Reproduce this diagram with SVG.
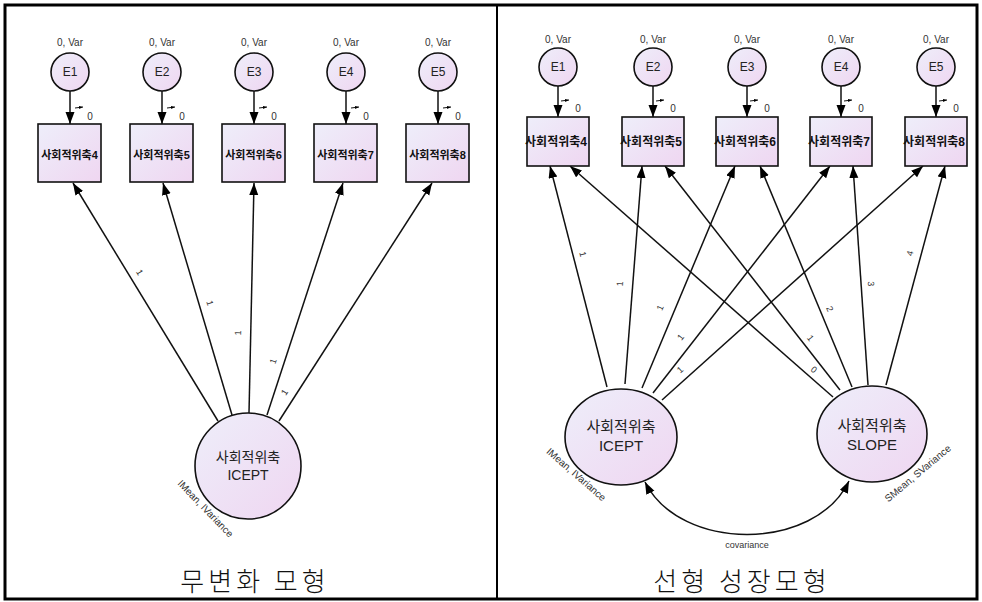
<svg xmlns="http://www.w3.org/2000/svg" width="982" height="602" viewBox="0 0 982 602">
<defs>
<linearGradient id="fillg" x1="0" y1="0" x2="1" y2="1">
<stop offset="0" stop-color="#eeeefa"/>
<stop offset="1" stop-color="#efd6f1"/>
</linearGradient>
<marker id="ah" markerUnits="userSpaceOnUse" markerWidth="13" markerHeight="10" refX="12" refY="4.5" orient="auto-start-reverse">
<path d="M0,0 L12,4.5 L0,9 z" fill="#000"/>
</marker>
<marker id="sah" markerUnits="userSpaceOnUse" markerWidth="5" markerHeight="4" refX="4" refY="1.5" orient="auto">
<path d="M0,0 L4,1.5 L0,3 z" fill="#000"/>
</marker>
</defs>
<style>
.sh{fill:url(#fillg);stroke:#111;stroke-width:1.6}
.lbl{font-family:"Liberation Sans",Arial,sans-serif;font-size:10px;fill:#333;text-anchor:middle}
.en{font-family:"Liberation Sans",Arial,sans-serif;font-size:12px;fill:#222;text-anchor:middle}
.bxl{font-family:"Liberation Sans","Noto Sans CJK KR",sans-serif;font-size:11px;font-weight:bold;fill:#111;text-anchor:middle}
.bxr{font-family:"Liberation Sans","Noto Sans CJK KR",sans-serif;font-size:12px;font-weight:bold;fill:#111;text-anchor:middle}
.lat{font-family:"Liberation Sans","Noto Sans CJK KR",sans-serif;fill:#222;text-anchor:middle}
.pl{font-family:"Liberation Sans",Arial,sans-serif;font-size:9px;fill:#333;text-anchor:middle}
.ar{stroke:#111;stroke-width:1.5;fill:none;marker-end:url(#ah)}
.sa{stroke:#111;stroke-width:1;fill:none;marker-end:url(#sah)}
.cap{font-family:"Noto Sans CJK KR",sans-serif;font-size:26px;font-weight:300;fill:#111;text-anchor:middle;letter-spacing:4px}
</style>
<rect x="0" y="0" width="982" height="602" fill="#fff"/>
<rect x="5" y="5" width="972" height="594" fill="none" stroke="#000" stroke-width="3"/>
<line x1="497" y1="5" x2="497" y2="599" stroke="#000" stroke-width="2"/>

<g id="connectors">
<line class="ar" x1="70" y1="91" x2="70" y2="124"/>
<line class="ar" x1="162" y1="91" x2="162" y2="124"/>
<line class="ar" x1="254" y1="91" x2="254" y2="124"/>
<line class="ar" x1="346" y1="91" x2="346" y2="124"/>
<line class="ar" x1="438" y1="91" x2="438" y2="124"/>
<line class="sa" x1="75" y1="108" x2="83" y2="107"/>
<line class="sa" x1="167" y1="108" x2="175" y2="107"/>
<line class="sa" x1="259" y1="108" x2="267" y2="107"/>
<line class="sa" x1="351" y1="108" x2="359" y2="107"/>
<line class="sa" x1="443" y1="108" x2="451" y2="107"/>
<line class="ar" x1="218" y1="421" x2="73" y2="183"/>
<line class="ar" x1="232" y1="415" x2="163" y2="183"/>
<line class="ar" x1="249" y1="413" x2="254" y2="183"/>
<line class="ar" x1="267" y1="415" x2="343" y2="183"/>
<line class="ar" x1="279" y1="421" x2="432" y2="183"/>
<text class="pl" transform="translate(137,274) rotate(58.6)">1</text>
<text class="pl" transform="translate(207,304) rotate(73.4)">1</text>
<text class="pl" transform="translate(241,333) rotate(-88.8)">1</text>
<text class="pl" transform="translate(276,362) rotate(-71.9)">1</text>
<text class="pl" transform="translate(287,394) rotate(-57.3)">1</text>
<line class="ar" x1="558" y1="86" x2="558" y2="117"/>
<line class="ar" x1="653" y1="86" x2="653" y2="117"/>
<line class="ar" x1="747" y1="86" x2="747" y2="117"/>
<line class="ar" x1="841" y1="86" x2="841" y2="117"/>
<line class="ar" x1="936" y1="86" x2="936" y2="117"/>
<line class="sa" x1="561" y1="101" x2="569" y2="100"/>
<line class="sa" x1="656" y1="101" x2="664" y2="100"/>
<line class="sa" x1="750" y1="101" x2="758" y2="100"/>
<line class="sa" x1="844" y1="101" x2="852" y2="100"/>
<line class="sa" x1="939" y1="101" x2="947" y2="100"/>
<line class="ar" x1="607" y1="387" x2="550" y2="166"/>
<line class="ar" x1="625" y1="384" x2="642" y2="166"/>
<line class="ar" x1="642" y1="388" x2="735" y2="166"/>
<line class="ar" x1="653" y1="393" x2="830" y2="166"/>
<line class="ar" x1="662" y1="400" x2="923" y2="166"/>
<line class="ar" x1="833" y1="397" x2="570" y2="166"/>
<line class="ar" x1="840" y1="390" x2="665" y2="166"/>
<line class="ar" x1="852" y1="387" x2="760" y2="166"/>
<line class="ar" x1="868" y1="385" x2="853" y2="166"/>
<line class="ar" x1="886" y1="385" x2="945" y2="166"/>
<text class="pl" transform="translate(580,255) rotate(75.5)">1</text>
<text class="pl" transform="translate(623,284) rotate(-85.5)">1</text>
<text class="pl" transform="translate(663,309) rotate(-67.3)">1</text>
<text class="pl" transform="translate(683,339) rotate(-52.1)">1</text>
<text class="pl" transform="translate(682,372) rotate(-41.9)">1</text>
<text class="pl" transform="translate(812,372) rotate(41)">0</text>
<text class="pl" transform="translate(808,340) rotate(52)">1</text>
<text class="pl" transform="translate(827,310) rotate(67.4)">2</text>
<text class="pl" transform="translate(868,284) rotate(86)">3</text>
<text class="pl" transform="translate(913,254) rotate(-74.9)">4</text>
<path d="M645,482 C680,552 815,552 849,481" stroke="#111" stroke-width="1.5" fill="none" marker-start="url(#ah)" marker-end="url(#ah)"/>
<text class="pl" x="747" y="548">covariance</text>
</g>

<g id="L-E1"><text class="lbl" x="70" y="46">0, Var</text><circle class="sh" cx="70" cy="72" r="19"/><text class="en" x="70" y="76">E1</text><text class="lbl" x="90" y="120">0</text></g>
<g id="L-E2"><text class="lbl" x="162" y="46">0, Var</text><circle class="sh" cx="162" cy="72" r="19"/><text class="en" x="162" y="76">E2</text><text class="lbl" x="182" y="120">0</text></g>
<g id="L-E3"><text class="lbl" x="254" y="46">0, Var</text><circle class="sh" cx="254" cy="72" r="19"/><text class="en" x="254" y="76">E3</text><text class="lbl" x="274" y="120">0</text></g>
<g id="L-E4"><text class="lbl" x="346" y="46">0, Var</text><circle class="sh" cx="346" cy="72" r="19"/><text class="en" x="346" y="76">E4</text><text class="lbl" x="366" y="120">0</text></g>
<g id="L-E5"><text class="lbl" x="438" y="46">0, Var</text><circle class="sh" cx="438" cy="72" r="19"/><text class="en" x="438" y="76">E5</text><text class="lbl" x="458" y="120">0</text></g>
<g id="L-B4"><rect class="sh" x="38" y="124" width="63" height="58"/><text class="bxl" x="69.5" y="159">사회적위축4</text></g>
<g id="L-B5"><rect class="sh" x="130" y="124" width="63" height="58"/><text class="bxl" x="161.5" y="159">사회적위축5</text></g>
<g id="L-B6"><rect class="sh" x="222" y="124" width="63" height="58"/><text class="bxl" x="253.5" y="159">사회적위축6</text></g>
<g id="L-B7"><rect class="sh" x="314" y="124" width="63" height="58"/><text class="bxl" x="345.5" y="159">사회적위축7</text></g>
<g id="L-B8"><rect class="sh" x="406" y="124" width="63" height="58"/><text class="bxl" x="437.5" y="159">사회적위축8</text></g>
<g id="L-ICEPT">
<circle class="sh" cx="248" cy="466" r="53"/>
<text class="lat" x="248" y="462" font-size="14">사회적위축</text>
<text class="lat" x="248" y="480" font-size="14">ICEPT</text>
<text class="lbl" transform="translate(203,511) rotate(46)">IMean, IVariance</text>
</g>

<g id="R-E1"><text class="lbl" x="558" y="43">0, Var</text><circle class="sh" cx="558" cy="67" r="19"/><text class="en" x="558" y="71">E1</text><text class="lbl" x="578" y="112">0</text></g>
<g id="R-E2"><text class="lbl" x="653" y="43">0, Var</text><circle class="sh" cx="653" cy="67" r="19"/><text class="en" x="653" y="71">E2</text><text class="lbl" x="673" y="112">0</text></g>
<g id="R-E3"><text class="lbl" x="747" y="43">0, Var</text><circle class="sh" cx="747" cy="67" r="19"/><text class="en" x="747" y="71">E3</text><text class="lbl" x="767" y="112">0</text></g>
<g id="R-E4"><text class="lbl" x="841" y="43">0, Var</text><circle class="sh" cx="841" cy="67" r="19"/><text class="en" x="841" y="71">E4</text><text class="lbl" x="861" y="112">0</text></g>
<g id="R-E5"><text class="lbl" x="936" y="43">0, Var</text><circle class="sh" cx="936" cy="67" r="19"/><text class="en" x="936" y="71">E5</text><text class="lbl" x="956" y="112">0</text></g>
<g id="R-B4"><rect class="sh" x="527" y="117" width="62" height="49"/><text class="bxr" x="556" y="146">사회적위축4</text></g>
<g id="R-B5"><rect class="sh" x="622" y="117" width="62" height="49"/><text class="bxr" x="651" y="146">사회적위축5</text></g>
<g id="R-B6"><rect class="sh" x="716" y="117" width="62" height="49"/><text class="bxr" x="745" y="146">사회적위축6</text></g>
<g id="R-B7"><rect class="sh" x="810" y="117" width="62" height="49"/><text class="bxr" x="839" y="146">사회적위축7</text></g>
<g id="R-B8"><rect class="sh" x="905" y="117" width="62" height="49"/><text class="bxr" x="934" y="146">사회적위축8</text></g>
<g id="R-ICEPT">
<ellipse class="sh" cx="621" cy="437" rx="56" ry="48"/>
<text class="lat" x="621" y="432" font-size="15">사회적위축</text>
<text class="lat" x="621" y="451" font-size="15">ICEPT</text>
<text class="lbl" transform="translate(574,477) rotate(41)">IMean, IVariance</text>
</g>
<g id="R-SLOPE">
<ellipse class="sh" cx="872" cy="434" rx="55" ry="48"/>
<text class="lat" x="872" y="431" font-size="15">사회적위축</text>
<text class="lat" x="872" y="450" font-size="15">SLOPE</text>
<text class="lbl" transform="translate(920,476) rotate(-40)">SMean, SVariance</text>
</g>

<text class="cap" x="255" y="591">무변화 모형</text>
<text class="cap" x="742" y="591">선형 성장모형</text>
</svg>
